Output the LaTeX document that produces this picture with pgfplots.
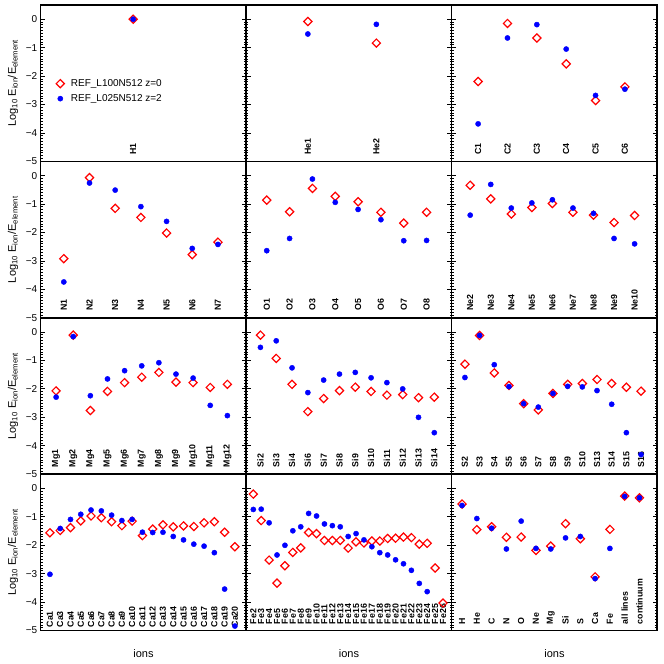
\documentclass[border=0pt]{standalone}
\usepackage{pgfplots}
\pgfplotsset{compat=1.18}
\usepackage{fontspec}
\setmainfont{Liberation Sans}
\definecolor{myred}{RGB}{255,0,0}
\definecolor{myblue}{RGB}{0,0,255}
\pgfplotsset{
  panel/.style={scale only axis, width=205.5pt, height=156.4pt, anchor=north west,
    ymin=-5, ymax=0.5, xtick=\empty, ytick={-5,-4,-3,-2,-1,0}, minor y tick num=9,
    tick align=inside, ytick pos=both, yticklabels={},
    axis line style={line width=1.5pt}, major tick length=4.5pt, minor tick length=2.2pt,
    every tick/.append style={black, line width=0.8pt},
    clip=false,
    tick label style={font=\fontsize{10}{12}\selectfont},
  },
  leftcol/.style={yticklabels={−5,−4,−3,−2,−1,0}},
  rser/.style={myred, only marks, mark=square, mark size=2.9pt, mark options={rotate=45, draw=myred, line width=1.2pt, fill=none}},
  bser/.style={myblue, only marks, mark=*, mark size=2.6pt, mark options={draw=myblue, fill=myblue}},
}
\tikzset{lab/.style={rotate=90, anchor=west, inner sep=0pt, font=\bfseries\fontsize{8.8}{10}\selectfont}}
\newcommand{\ylab}{Log\textsubscript{10} E\textsubscript{ion}/E\textsubscript{element}}
\begin{document}
\begin{tikzpicture}
\useasboundingbox (0,0) rectangle (664pt,664pt);
% ---------- Row 1 ----------
\begin{axis}[panel, leftcol, at={(40.7pt,659pt)}, xmin=0.1, xmax=2.1,
  legend style={at={(axis cs:0.249,-2.53)}, anchor=west, draw=none, fill=none, inner sep=0pt, row sep=2.5pt, font=\fontsize{10}{12}\selectfont},
  legend cell align=left,
  legend image code/.code={\draw[#1] plot coordinates {(0pt,0pt)};}]
\addplot[rser] coordinates {(1,0)};
\addlegendentry{\hspace*{4.5pt}REF\_L100N512 z=0}
\addplot[bser] coordinates {(1,0)};
\addlegendentry{\hspace*{4.5pt}REF\_L025N512 z=2}
\node[lab] at (axis cs:1,-4.76) {H1};
\end{axis}
\begin{axis}[panel, at={(246.2pt,659pt)}, xmin=0.1, xmax=3.1]
\addplot[rser] coordinates {(1,-0.08)(2,-0.84)};
\addplot[bser] coordinates {(1,-0.52)(2,-0.18)};
\node[lab] at (axis cs:1,-4.76) {He1};
\node[lab] at (axis cs:2,-4.76) {He2};
\end{axis}
\begin{axis}[panel, at={(451.7pt,659pt)}, xmin=0.1, xmax=7.1]
\addplot[rser] coordinates {(1,-2.19)(2,-0.15)(3,-0.66)(4,-1.57)(5,-2.86)(6,-2.38)};
\addplot[bser] coordinates {(1,-3.68)(2,-0.66)(3,-0.19)(4,-1.05)(5,-2.68)(6,-2.46)};
\node[lab] at (axis cs:1,-4.76) {C1};
\node[lab] at (axis cs:2,-4.76) {C2};
\node[lab] at (axis cs:3,-4.76) {C3};
\node[lab] at (axis cs:4,-4.76) {C4};
\node[lab] at (axis cs:5,-4.76) {C5};
\node[lab] at (axis cs:6,-4.76) {C6};
\end{axis}
% ---------- Row 2 ----------
\begin{axis}[panel, leftcol, at={(40.7pt,502.6pt)}, xmin=0.1, xmax=8.1]
\addplot[rser] coordinates {(1,-2.92)(2,-0.07)(3,-1.15)(4,-1.47)(5,-2.02)(6,-2.78)(7,-2.34)};
\addplot[bser] coordinates {(1,-3.74)(2,-0.26)(3,-0.51)(4,-1.09)(5,-1.61)(6,-2.56)(7,-2.42)};
\node[lab] at (axis cs:1,-4.76) {N1};
\node[lab] at (axis cs:2,-4.76) {N2};
\node[lab] at (axis cs:3,-4.76) {N3};
\node[lab] at (axis cs:4,-4.76) {N4};
\node[lab] at (axis cs:5,-4.76) {N5};
\node[lab] at (axis cs:6,-4.76) {N6};
\node[lab] at (axis cs:7,-4.76) {N7};
\end{axis}
\begin{axis}[panel, at={(246.2pt,502.6pt)}, xmin=0.1, xmax=9.1]
\addplot[rser] coordinates {(1,-0.86)(2,-1.27)(3,-0.45)(4,-0.73)(5,-0.92)(6,-1.29)(7,-1.67)(8,-1.29)};
\addplot[bser] coordinates {(1,-2.64)(2,-2.21)(3,-0.12)(4,-0.94)(5,-1.19)(6,-1.55)(7,-2.29)(8,-2.28)};
\node[lab] at (axis cs:1,-4.76) {O1};
\node[lab] at (axis cs:2,-4.76) {O2};
\node[lab] at (axis cs:3,-4.76) {O3};
\node[lab] at (axis cs:4,-4.76) {O4};
\node[lab] at (axis cs:5,-4.76) {O5};
\node[lab] at (axis cs:6,-4.76) {O6};
\node[lab] at (axis cs:7,-4.76) {O7};
\node[lab] at (axis cs:8,-4.76) {O8};
\end{axis}
\begin{axis}[panel, at={(451.7pt,502.6pt)}, xmin=0.1, xmax=10.1]
\addplot[rser] coordinates {(1,-0.34)(2,-0.82)(3,-1.35)(4,-1.12)(5,-0.98)(6,-1.29)(7,-1.39)(8,-1.65)(9,-1.40)};
\addplot[bser] coordinates {(1,-1.39)(2,-0.31)(3,-1.14)(4,-0.96)(5,-0.85)(6,-1.14)(7,-1.33)(8,-2.21)(9,-2.40)};
\node[lab] at (axis cs:1,-4.76) {Ne2};
\node[lab] at (axis cs:2,-4.76) {Ne3};
\node[lab] at (axis cs:3,-4.76) {Ne4};
\node[lab] at (axis cs:4,-4.76) {Ne5};
\node[lab] at (axis cs:5,-4.76) {Ne6};
\node[lab] at (axis cs:6,-4.76) {Ne7};
\node[lab] at (axis cs:7,-4.76) {Ne8};
\node[lab] at (axis cs:8,-4.76) {Ne9};
\node[lab] at (axis cs:9,-4.76) {Ne10};
\end{axis}
% ---------- Row 3 ----------
\begin{axis}[panel, leftcol, at={(40.7pt,346.2pt)}, xmin=0.1, xmax=12.1]
\addplot[rser] coordinates {(1,-2.07)(2,-0.11)(3,-2.76)(4,-2.09)(5,-1.78)(6,-1.59)(7,-1.42)(8,-1.76)(9,-1.78)(10,-1.95)(11,-1.84)};
\addplot[bser] coordinates {(1,-2.29)(2,-0.16)(3,-2.24)(4,-1.65)(5,-1.36)(6,-1.19)(7,-1.08)(8,-1.48)(9,-1.62)(10,-2.58)(11,-2.94)};
\node[lab] at (axis cs:1,-4.76) {Mg1};
\node[lab] at (axis cs:2,-4.76) {Mg2};
\node[lab] at (axis cs:3,-4.76) {Mg4};
\node[lab] at (axis cs:4,-4.76) {Mg5};
\node[lab] at (axis cs:5,-4.76) {Mg6};
\node[lab] at (axis cs:6,-4.76) {Mg7};
\node[lab] at (axis cs:7,-4.76) {Mg8};
\node[lab] at (axis cs:8,-4.76) {Mg9};
\node[lab] at (axis cs:9,-4.76) {Mg10};
\node[lab] at (axis cs:10,-4.76) {Mg11};
\node[lab] at (axis cs:11,-4.76) {Mg12};
\end{axis}
\begin{axis}[panel, at={(246.2pt,346.2pt)}, xmin=0.1, xmax=13.1]
\addplot[rser] coordinates {(1,-0.11)(2,-0.93)(3,-1.84)(4,-2.80)(5,-2.34)(6,-2.06)(7,-1.94)(8,-2.09)(9,-2.22)(10,-2.20)(11,-2.31)(12,-2.29)};
\addplot[bser] coordinates {(1,-0.54)(2,-0.31)(3,-1.26)(4,-2.13)(5,-1.69)(6,-1.48)(7,-1.42)(8,-1.61)(9,-1.78)(10,-2.00)(11,-3.00)(12,-3.54)};
\node[lab] at (axis cs:1,-4.76) {Si2};
\node[lab] at (axis cs:2,-4.76) {Si3};
\node[lab] at (axis cs:3,-4.76) {Si4};
\node[lab] at (axis cs:4,-4.76) {Si6};
\node[lab] at (axis cs:5,-4.76) {Si7};
\node[lab] at (axis cs:6,-4.76) {Si8};
\node[lab] at (axis cs:7,-4.76) {Si9};
\node[lab] at (axis cs:8,-4.76) {Si10};
\node[lab] at (axis cs:9,-4.76) {Si11};
\node[lab] at (axis cs:10,-4.76) {Si12};
\node[lab] at (axis cs:11,-4.76) {Si13};
\node[lab] at (axis cs:12,-4.76) {Si14};
\end{axis}
\begin{axis}[panel, at={(451.7pt,346.2pt)}, xmin=0.1, xmax=14.1]
\addplot[rser] coordinates {(1,-1.13)(2,-0.12)(3,-1.44)(4,-1.88)(5,-2.52)(6,-2.74)(7,-2.16)(8,-1.84)(9,-1.81)(10,-1.67)(11,-1.81)(12,-1.94)(13,-2.08)};
\addplot[bser] coordinates {(1,-1.60)(2,-0.12)(3,-1.15)(4,-1.92)(5,-2.52)(6,-2.64)(7,-2.16)(8,-1.91)(9,-1.93)(10,-2.06)(11,-2.54)(12,-3.54)(13,-4.31)};
\node[lab] at (axis cs:1,-4.76) {S2};
\node[lab] at (axis cs:2,-4.76) {S3};
\node[lab] at (axis cs:3,-4.76) {S4};
\node[lab] at (axis cs:4,-4.76) {S5};
\node[lab] at (axis cs:5,-4.76) {S6};
\node[lab] at (axis cs:6,-4.76) {S7};
\node[lab] at (axis cs:7,-4.76) {S8};
\node[lab] at (axis cs:8,-4.76) {S9};
\node[lab] at (axis cs:9,-4.76) {S10};
\node[lab] at (axis cs:10,-4.76) {S13};
\node[lab] at (axis cs:11,-4.76) {S14};
\node[lab] at (axis cs:12,-4.76) {S15};
\node[lab] at (axis cs:13,-4.76) {S16};
\end{axis}
% ---------- Row 4 ----------
\begin{axis}[panel, leftcol, at={(40.7pt,189.8pt)}, xmin=0.1, xmax=20.1]
\addplot[rser] coordinates {(1,-1.56)(2,-1.48)(3,-1.38)(4,-1.14)(5,-0.97)(6,-1.03)(7,-1.17)(8,-1.31)(9,-1.15)(10,-1.66)(11,-1.43)(12,-1.28)(13,-1.35)(14,-1.32)(15,-1.34)(16,-1.21)(17,-1.17)(18,-1.54)(19,-2.05)};
\addplot[bser] coordinates {(1,-3.02)(2,-1.41)(3,-1.09)(4,-0.91)(5,-0.76)(6,-0.79)(7,-0.94)(8,-1.13)(9,-1.09)(10,-1.54)(11,-1.55)(12,-1.54)(13,-1.69)(14,-1.81)(15,-1.96)(16,-2.03)(17,-2.26)(18,-3.54)(19,-4.84)};
\node[lab] at (axis cs:1,-4.89) {Ca1};
\node[lab] at (axis cs:2,-4.89) {Ca3};
\node[lab] at (axis cs:3,-4.89) {Ca4};
\node[lab] at (axis cs:4,-4.89) {Ca5};
\node[lab] at (axis cs:5,-4.89) {Ca6};
\node[lab] at (axis cs:6,-4.89) {Ca7};
\node[lab] at (axis cs:7,-4.89) {Ca8};
\node[lab] at (axis cs:8,-4.89) {Ca9};
\node[lab] at (axis cs:9,-4.89) {Ca10};
\node[lab] at (axis cs:10,-4.89) {Ca11};
\node[lab] at (axis cs:11,-4.89) {Ca12};
\node[lab] at (axis cs:12,-4.89) {Ca13};
\node[lab] at (axis cs:13,-4.89) {Ca14};
\node[lab] at (axis cs:14,-4.89) {Ca15};
\node[lab] at (axis cs:15,-4.89) {Ca16};
\node[lab] at (axis cs:16,-4.89) {Ca17};
\node[lab] at (axis cs:17,-4.89) {Ca18};
\node[lab] at (axis cs:18,-4.89) {Ca19};
\node[lab] at (axis cs:19,-4.89) {Ca20};
\end{axis}
\begin{axis}[panel, at={(246.2pt,189.8pt)}, xmin=0.1, xmax=26.1]
\addplot[rser] coordinates {(1,-0.20)(2,-1.13)(3,-2.52)(4,-3.33)(5,-2.72)(6,-2.25)(7,-2.09)(8,-1.55)(9,-1.59)(10,-1.83)(11,-1.83)(12,-1.83)(13,-2.10)(14,-1.88)(15,-1.92)(16,-1.85)(17,-1.85)(18,-1.76)(19,-1.75)(20,-1.71)(21,-1.73)(22,-1.96)(23,-1.93)(24,-2.80)(25,-4.03)};
\addplot[bser] coordinates {(1,-0.74)(2,-0.73)(3,-1.21)(4,-2.34)(5,-2.00)(6,-1.49)(7,-1.35)(8,-0.88)(9,-0.97)(10,-1.25)(11,-1.31)(12,-1.35)(13,-1.69)(14,-1.59)(15,-1.81)(16,-2.05)(17,-2.26)(18,-2.34)(19,-2.51)(20,-2.65)(21,-2.88)(22,-3.34)(23,-3.63)};
\node[lab] at (axis cs:1,-4.78) {Fe2};
\node[lab] at (axis cs:2,-4.78) {Fe3};
\node[lab] at (axis cs:3,-4.78) {Fe4};
\node[lab] at (axis cs:4,-4.78) {Fe5};
\node[lab] at (axis cs:5,-4.78) {Fe6};
\node[lab] at (axis cs:6,-4.78) {Fe7};
\node[lab] at (axis cs:7,-4.78) {Fe8};
\node[lab] at (axis cs:8,-4.78) {Fe9};
\node[lab] at (axis cs:9,-4.78) {Fe10};
\node[lab] at (axis cs:10,-4.78) {Fe11};
\node[lab] at (axis cs:11,-4.78) {Fe12};
\node[lab] at (axis cs:12,-4.78) {Fe13};
\node[lab] at (axis cs:13,-4.78) {Fe14};
\node[lab] at (axis cs:14,-4.78) {Fe15};
\node[lab] at (axis cs:15,-4.78) {Fe16};
\node[lab] at (axis cs:16,-4.78) {Fe17};
\node[lab] at (axis cs:17,-4.78) {Fe18};
\node[lab] at (axis cs:18,-4.78) {Fe19};
\node[lab] at (axis cs:19,-4.78) {Fe20};
\node[lab] at (axis cs:20,-4.78) {Fe21};
\node[lab] at (axis cs:21,-4.78) {Fe22};
\node[lab] at (axis cs:22,-4.78) {Fe23};
\node[lab] at (axis cs:23,-4.78) {Fe24};
\node[lab] at (axis cs:24,-4.78) {Fe25};
\node[lab] at (axis cs:25,-4.78) {Fe26};
\end{axis}
\begin{axis}[panel, at={(451.7pt,189.8pt)}, xmin=0.3, xmax=14.2]
\addplot[rser] coordinates {(1,-0.55)(2,-1.45)(3,-1.35)(4,-1.72)(5,-1.71)(6,-2.18)(7,-2.03)(8,-1.24)(9,-1.77)(10,-3.11)(11,-1.44)(12,-0.27)(13,-0.33)};
\addplot[bser] coordinates {(1,-0.60)(2,-1.06)(3,-1.40)(4,-2.13)(5,-1.15)(6,-2.11)(7,-2.13)(8,-1.74)(9,-1.69)(10,-3.17)(11,-2.11)(12,-0.28)(13,-0.33)};
\node[lab] at (axis cs:1,-4.78) {H};
\node[lab] at (axis cs:2,-4.78) {He};
\node[lab] at (axis cs:3,-4.78) {C};
\node[lab] at (axis cs:4,-4.78) {N};
\node[lab] at (axis cs:5,-4.78) {O};
\node[lab] at (axis cs:6,-4.78) {Ne};
\node[lab] at (axis cs:7,-4.78) {Mg};
\node[lab] at (axis cs:8,-4.78) {Si};
\node[lab] at (axis cs:9,-4.78) {S};
\node[lab] at (axis cs:10,-4.78) {Ca};
\node[lab] at (axis cs:11,-4.78) {Fe};
\node[lab] at (axis cs:12,-4.78) {all lines};
\node[lab] at (axis cs:13,-4.78) {continuum};
\end{axis}
% ---------- outer labels ----------
\foreach \yy in {580.8,424.4,268.0,111.6}{
  \node[rotate=90, font=\fontsize{11}{13}\selectfont] at (13pt,\yy pt) {\ylab};
}
\foreach \xx in {143.5,349,554.5}{
  \node[font=\fontsize{11}{13}\selectfont] at (\xx pt,10pt) {ions};
}
\end{tikzpicture}
\end{document}
